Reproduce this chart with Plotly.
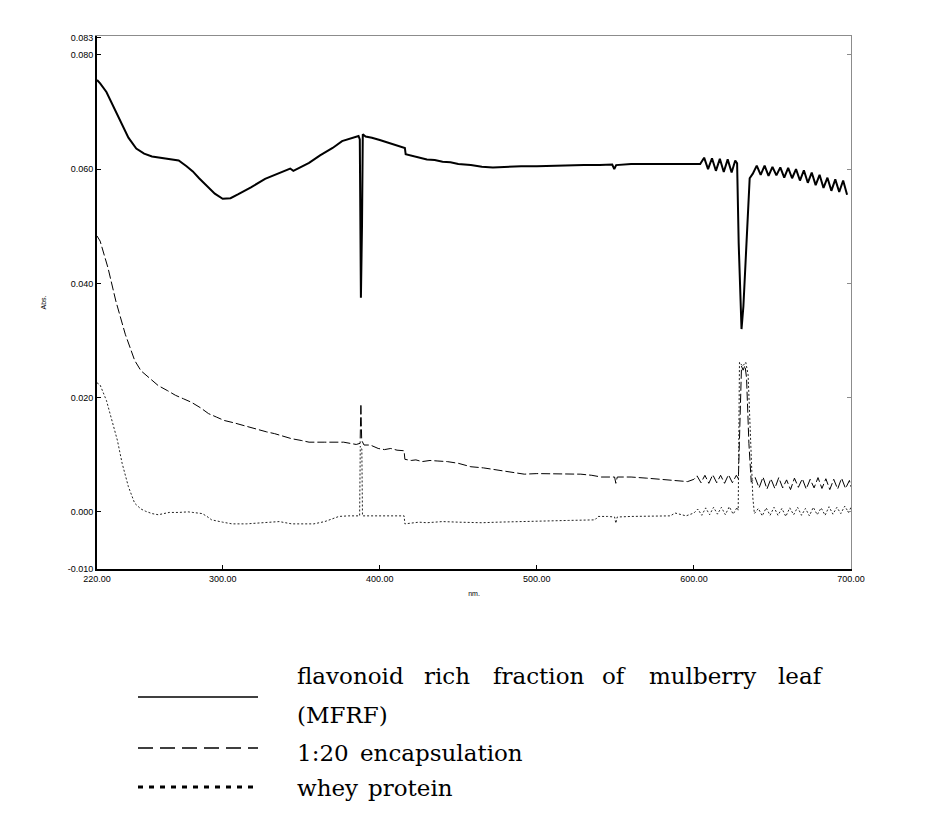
import plotly.graph_objects as go

# wavelength (nm) / absorbance
mfrf_nm = [220, 222, 226, 230, 235, 240, 245, 250, 255, 260, 266, 272, 277, 281, 285,
           290, 295, 300, 305, 310, 318, 327, 334, 340, 343, 345, 350, 355, 362, 370,
           376, 381, 384, 386.5, 387.3, 388, 388.7, 389.2, 391, 395, 400, 405, 410, 415,
           416, 416.5, 420, 425, 430, 435, 440, 445, 450, 458, 465, 472, 480, 490, 500,
           510, 520, 530, 540, 548, 549.3, 550.5, 560, 570, 580, 590, 600, 604,
           606.5, 609, 611.5, 614, 616.5, 619, 621.5, 624, 626.3, 627.5, 628.5, 630.3,
           631.5, 633.5, 635.5, 637.5, 640, 642.5, 645, 647.5, 650, 652.5, 655, 657.5,
           660, 662.5, 665, 667.5, 670, 672.5, 675, 677.5, 680, 682.5, 685, 687.5, 690,
           692.5, 695, 697.5, 700]
mfrf_abs = [0.0756, 0.0750, 0.0735, 0.0712, 0.0683, 0.0655, 0.0636, 0.0627, 0.0622, 0.0620,
            0.0618, 0.0615, 0.0605, 0.0596, 0.0584, 0.0570, 0.0557, 0.0548, 0.0549, 0.0556,
            0.0568, 0.0583, 0.0591, 0.0597, 0.0601, 0.0597, 0.0604, 0.0611, 0.0624, 0.0637,
            0.0649, 0.0653, 0.0655, 0.0658, 0.0652, 0.0375, 0.0500, 0.0661, 0.0657, 0.0655,
            0.0651, 0.0647, 0.0643, 0.0638, 0.0637, 0.0626, 0.0624, 0.0620, 0.0617, 0.0616,
            0.0613, 0.0612, 0.0609, 0.0607, 0.0604, 0.0603, 0.0604, 0.0605, 0.0605, 0.0606,
            0.0606, 0.0607, 0.0607, 0.0608, 0.0600, 0.0607, 0.0609, 0.0609, 0.0610, 0.0610,
            0.0610, 0.0609,
            0.0620, 0.0600, 0.0619, 0.0597, 0.0618, 0.0595, 0.0617, 0.0594, 0.0615, 0.0610,
            0.0470, 0.0320, 0.0360, 0.0474, 0.0584, 0.0592, 0.0606, 0.0590, 0.0606, 0.0588,
            0.0604, 0.0589, 0.0603, 0.0585, 0.0602, 0.0584, 0.0600, 0.0580, 0.0598, 0.0576,
            0.0594, 0.0572, 0.0590, 0.0567, 0.0585, 0.0562, 0.0582, 0.0560, 0.0580, 0.0555]

enc_nm = [220, 222, 227, 232, 238, 244, 248, 254, 259, 265, 270, 275, 280, 286, 291, 296,
          301, 307, 312, 318, 323, 328, 333, 339, 344, 350, 355, 365, 377, 385, 387.5, 388,
          388.5, 390, 394, 399, 403, 407, 411, 415.5, 416, 420, 423, 427, 432, 437, 443,
          450, 458, 466, 475, 484, 492, 500, 507, 515, 528, 535, 541, 549.5, 550.3, 551.2,
          560, 570, 581, 590, 596, 600, 602, 604.5, 607, 609.5, 612, 614.5, 617, 619.5,
          622, 624.5, 627, 628.3, 629.5, 630.3, 631.3, 632.5, 633.5, 635, 636.5, 639,
          641.5, 644, 646.5, 649, 651.5, 654, 656.5, 659, 661.5, 664, 666.5, 669, 671.5,
          674, 676.5, 679, 681.5, 684, 686.5, 689, 691.5, 694, 696.5, 699, 700]
enc_abs = [0.0483, 0.0474, 0.0427, 0.0369, 0.0311, 0.0265, 0.0247, 0.0232, 0.0221, 0.0212,
           0.0204, 0.0198, 0.0192, 0.0182, 0.0172, 0.0166, 0.0160, 0.0156, 0.0152, 0.0147,
           0.0143, 0.0140, 0.0137, 0.0132, 0.0128, 0.0125, 0.0122, 0.0122, 0.0122, 0.0118,
           0.0120, 0.0189, 0.0125, 0.0117, 0.0117, 0.0111, 0.0109, 0.0111, 0.0108, 0.0107,
           0.0092, 0.0090, 0.0091, 0.0088, 0.0090, 0.0089, 0.0088, 0.0085, 0.0079, 0.0077,
           0.0073, 0.0069, 0.0066, 0.0067, 0.0067, 0.0066, 0.0066, 0.0064, 0.0061, 0.0061,
           0.0050, 0.0061, 0.0061, 0.0059, 0.0056, 0.0054, 0.0053, 0.0057, 0.0063, 0.0051,
           0.0064, 0.0050, 0.0065, 0.0051, 0.0064, 0.0050, 0.0065, 0.0051, 0.0064, 0.0058,
           0.0200, 0.0255, 0.0248, 0.0256, 0.0235, 0.0120, 0.0052, 0.0060, 0.0042, 0.0061,
           0.0040, 0.0058, 0.0041, 0.0060, 0.0042, 0.0056, 0.0039, 0.0059, 0.0043, 0.0058,
           0.0040, 0.0057, 0.0042, 0.0060, 0.0041, 0.0058, 0.0039, 0.0057, 0.0040, 0.0059,
           0.0041, 0.0055, 0.0044]

whey_nm = [220, 222, 226, 230, 233, 236, 240, 244, 248, 251, 255, 259, 263, 266, 272, 278,
           281, 287, 290, 293, 300, 306, 315, 323, 330, 336, 344, 350, 358, 365, 370, 374,
           380, 387.2, 387.6, 388.6, 389, 395, 405, 415.5, 416, 420, 425, 430, 440, 450,
           465, 475, 486, 500, 507, 520, 537, 539, 545, 549.5, 550.3, 551.2, 560, 575, 585,
           588, 591, 595, 600, 602.5, 605, 607.5, 610, 612.5, 615, 617.5, 620, 622.5, 625,
           627.5, 628.2, 629, 631, 633, 634.5, 636, 637.5, 638.5, 641, 643.5, 646, 648.5,
           651, 653.5, 656, 658.5, 661, 663.5, 666, 668.5, 671, 673.5, 676, 678.5, 681,
           683.5, 686, 688.5, 691, 693.5, 696, 698.5, 700]
whey_abs = [0.0226, 0.0222, 0.0195, 0.0155, 0.0125, 0.0085, 0.0044, 0.0015, 0.0005, 0.0001,
            -0.0003, -0.0005, -0.0002, -0.0001, -0.0001, 0.0000, -0.0001, -0.0003, -0.0008,
            -0.0014, -0.0018, -0.0021, -0.0021, -0.0019, -0.0018, -0.0017, -0.0021, -0.0021,
            -0.0021, -0.0017, -0.0012, -0.0008, -0.0007, -0.0007, 0.0115, 0.0110, -0.0007,
            -0.0007, -0.0007, -0.0007, -0.0021, -0.0020, -0.0018, -0.0019, -0.0017, -0.0018,
            -0.0019, -0.0018, -0.0017, -0.0016, -0.0015, -0.0015, -0.0014, -0.0008, -0.0008,
            -0.0009, -0.0020, -0.0009, -0.0008, -0.0008, -0.0007, -0.0002, -0.0004, -0.0007,
            -0.0002, 0.0005, -0.0006, 0.0007, -0.0005, 0.0008, -0.0004, 0.0008, -0.0005,
            0.0009, -0.0004, 0.0008, 0.0003, 0.0262, 0.0255, 0.0262, 0.0240, 0.0120, 0.0025,
            -0.0003, 0.0006, -0.0007, 0.0007, -0.0006, 0.0008, -0.0006, 0.0006, -0.0008,
            0.0007, -0.0005, 0.0008, -0.0006, 0.0006, -0.0007, 0.0008, -0.0005, 0.0007,
            -0.0006, 0.0009, -0.0004, 0.0008, -0.0003, 0.0010, -0.0001, 0.0008]

x_ticks = [220, 300, 400, 500, 600, 700]
y_ticks = [-0.010, 0.000, 0.020, 0.040, 0.060, 0.080, 0.083]
y_range = [-0.010, 0.0833]

# legend entries: (sample dash, sample width, words with left edge in px)
legend_rows = [
    ("solid", 1.5, [("flavonoid", 295), ("rich", 422), ("fraction", 491), ("of", 600),
                    ("mulberry", 647), ("leaf", 776)]),
    (None, 0, [("(MFRF)", 295)]),
    ("15px,7px", 1.5, [("1:20", 295), ("encapsulation", 358)]),
    ("5px,6px", 3, [("whey", 295), ("protein", 366)]),
]
text_rows_y = [676, 715, 753, 788]
sample_rows_y = [697, None, 748, 787]

W, H = 932, 819
PAGE = 8  # body margin of the page shifts the figure
L, R, T, B = 97 - PAGE, 851 - PAGE, 36 - PAGE, 569 - PAGE


def px_x(px):
    return (px - PAGE - L) / (R - L)


def px_y(py):
    return (B - (py - PAGE)) / (B - T)


fig = go.Figure()
fig.add_trace(go.Scatter(x=mfrf_nm, y=mfrf_abs, mode="lines",
                         line=dict(color="black", width=2), showlegend=False))
fig.add_trace(go.Scatter(x=enc_nm, y=enc_abs, mode="lines",
                         line=dict(color="black", width=1, dash="9px,3px"), showlegend=False))
fig.add_trace(go.Scatter(x=whey_nm, y=whey_abs, mode="lines",
                         line=dict(color="#222222", width=1, dash="2px,2px"), showlegend=False))
# carrier for the grey top / right frame axes
fig.add_trace(go.Scatter(x=[None], y=[None], xaxis="x2", yaxis="y2", showlegend=False))

tick_font = dict(family="Liberation Sans, Arial", size=9, color="black")
title_font = dict(family="Liberation Sans, Arial", size=7, color="black")

annotations = []
shapes = []
for (dash, lw, words), ty, sy in zip(legend_rows, text_rows_y, sample_rows_y):
    for word, wx in words:
        annotations.append(dict(text=word, x=px_x(wx), y=px_y(ty), xref="paper", yref="paper",
                                xanchor="left", yanchor="middle", showarrow=False,
                                font=dict(family="DejaVu Serif", size=23, color="black")))
    if dash is not None:
        shapes.append(dict(type="line", xref="paper", yref="paper",
                           x0=px_x(138), x1=px_x(258), y0=px_y(sy), y1=px_y(sy),
                           line=dict(color="black", width=lw, dash=dash)))

fig.update_layout(
    width=W, height=H,
    margin=dict(l=L, r=W - R, t=T, b=H - B),
    paper_bgcolor="white", plot_bgcolor="white",
    xaxis=dict(range=[220, 700], tickvals=x_ticks, ticktext=[f"{v:.2f}" for v in x_ticks],
               ticks="inside", ticklen=4, tickcolor="black", tickwidth=1,
               showline=True, linecolor="black", linewidth=2, showgrid=False, zeroline=False,
               tickfont=tick_font,
               title=dict(text="nm.", font=title_font, standoff=8)),
    yaxis=dict(range=y_range, tickvals=y_ticks, ticktext=[f"{v:.3f}" for v in y_ticks],
               ticks="inside", ticklen=4, tickcolor="black", tickwidth=1,
               showline=True, linecolor="black", linewidth=2, showgrid=False, zeroline=False,
               tickfont=tick_font,
               title=dict(text="Abs.", font=title_font, standoff=20)),
    xaxis2=dict(overlaying="x", side="top", range=[220, 700], showline=True,
                linecolor="#8c8c8c", linewidth=1, showticklabels=False, ticks="",
                showgrid=False, zeroline=False),
    yaxis2=dict(overlaying="y", side="right", range=y_range, showline=True,
                linecolor="#8c8c8c", linewidth=1, showticklabels=False,
                tickvals=[0.0, 0.02, 0.04, 0.06, 0.08], ticks="inside", ticklen=4,
                tickcolor="#8c8c8c", showgrid=False, zeroline=False),
    annotations=annotations,
    shapes=shapes,
)

fig.write_html("out.html")
